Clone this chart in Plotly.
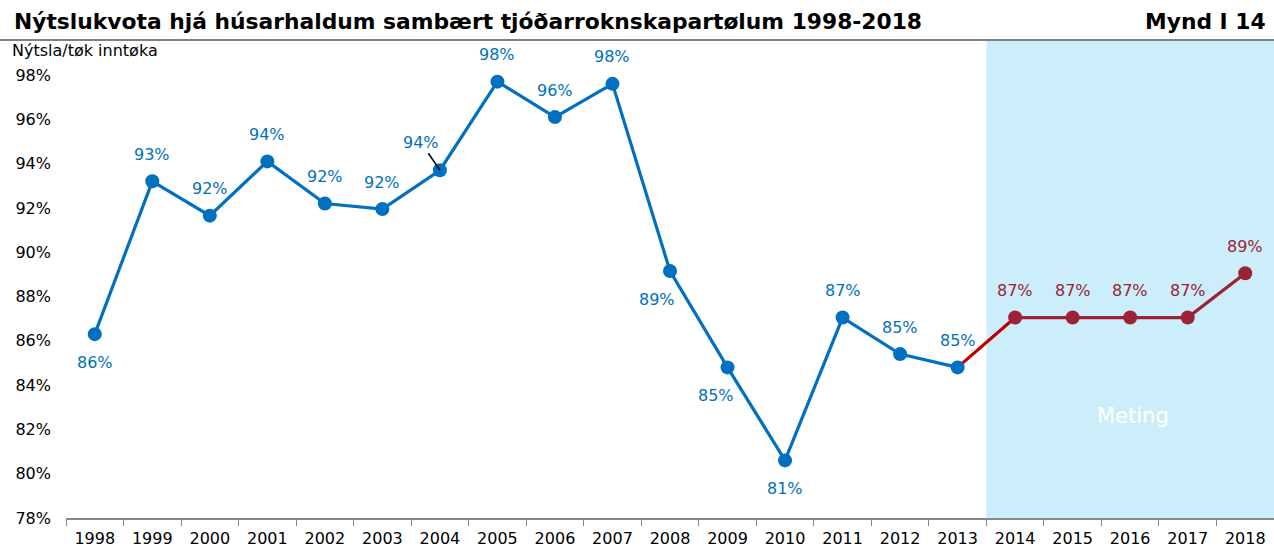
import plotly.graph_objects as go

years = [str(y) for y in range(1998, 2019)]
actual_years = years[:16]
actual_vals = [86.3, 93.2, 91.65, 94.1, 92.2, 91.95, 93.7, 97.7, 96.1, 97.6, 89.15, 84.8, 80.6, 87.05, 85.4, 84.8]
fc_years = years[16:]
fc_vals = [87.05, 87.05, 87.05, 87.05, 89.05]
actual_labels = ["86%", "93%", "92%", "94%", "92%", "92%", "94%", "98%", "96%", "98%", "89%", "85%", "81%", "87%", "85%", "85%"]
actual_label_pos = ["below", "above", "above", "above", "above", "above", "leader", "above", "above", "above", "below", "below", "below", "above", "above", "above"]
fc_labels = ["87%", "87%", "87%", "87%", "89%"]
y_ticks = [78, 80, 82, 84, 86, 88, 90, 92, 94, 96, 98]

BLUE = "#0070C0"
DRED = "#9B2335"
RED = "#C00000"
FONT = "DejaVu Sans"

W, H = 1274, 551
ML, MR, MT, MB = 66, 0, 40, 33
pw, ph = W - ML - MR, H - MT - MB
def px(x):
    return (x - ML) / pw
def py(y):
    return (H - MB - y) / ph

fig = go.Figure()

fig.add_shape(type="rect", xref="x", yref="paper", x0=15.5, x1=20.6, y0=0, y1=1,
              fillcolor="#CCEEFA", line_width=0, layer="below")

fig.add_trace(go.Scatter(x=[actual_years[-1], fc_years[0]], y=[actual_vals[-1], fc_vals[0]],
                         mode="lines", line=dict(color=RED, width=3.2), hoverinfo="skip"))
fig.add_trace(go.Scatter(x=actual_years, y=actual_vals, mode="lines+markers",
                         line=dict(color=BLUE, width=3.2), marker=dict(size=14, color=BLUE)))
fig.add_trace(go.Scatter(x=fc_years, y=fc_vals, mode="lines+markers",
                         line=dict(color=DRED, width=3.2), marker=dict(size=14, color=DRED)))

xshifts = {"2008": -13, "2009": -12}
ann = []
for yr, v, t, p in zip(actual_years, actual_vals, actual_labels, actual_label_pos):
    xi = years.index(yr)
    if p == "leader":
        ann.append(dict(x=xi, y=v, xref="x", yref="y", text=t, showarrow=True, ax=-19, ay=-28, arrowhead=0,
                        arrowwidth=1.5, arrowcolor="black", standoff=0,
                        font=dict(size=16, color=BLUE, family=FONT)))
    else:
        ann.append(dict(x=xi, y=v, xref="x", yref="y", text=t, showarrow=False,
                        yshift=27 if p == "above" else -28,
                        xshift=xshifts.get(yr, 0), font=dict(size=16, color=BLUE, family=FONT)))
for yr, v, t in zip(fc_years, fc_vals, fc_labels):
    ann.append(dict(x=years.index(yr), y=v, xref="x", yref="y", text=t, showarrow=False, yshift=27,
                    font=dict(size=16, color=DRED, family=FONT)))

ann.append(dict(x=18.05, y=82.6, xref="x", yref="y", text="Meting", showarrow=False,
                font=dict(size=21, color="white", family=FONT)))
ann.append(dict(x=px(12), y=py(22), xref="paper", yref="paper",
                text="<b>Nýtslukvota hjá húsarhaldum sambært tjóðarroknskapartølum 1998-2018</b>",
                showarrow=False, xanchor="left", yanchor="middle",
                font=dict(size=21.8, color="black", family=FONT)))
ann.append(dict(text="<b>Mynd I 14</b>", showarrow=False, xanchor="right", yanchor="middle",
                font=dict(size=21.8, color="black", family=FONT), xref="paper", yref="paper",
                x=px(1268), y=py(22)))
ann.append(dict(text="Nýtsla/tøk inntøka", showarrow=False, xanchor="left", yanchor="middle",
                font=dict(size=16, color="black", family=FONT), xref="paper", yref="paper",
                x=px(10), y=py(50)))

fig.add_shape(type="line", xref="paper", yref="paper", x0=px(0), x1=px(1274), y0=py(40), y1=py(40),
              line=dict(color="#808080", width=2))

fig.update_layout(
    width=W, height=H, margin=dict(l=ML, r=MR, t=MT, b=MB),
    plot_bgcolor="white", paper_bgcolor="white", showlegend=False,
    font=dict(family=FONT, color="black"),
    annotations=ann,
    xaxis=dict(type="category", categoryorder="array", categoryarray=years, range=[-0.5, 20.5],
               showgrid=False, showline=True, linecolor="#888888", linewidth=1.5,
               ticks="outside", tickson="boundaries", ticklen=6, tickcolor="#888888",
               ticklabelstandoff=5,
               tickfont=dict(size=16, color="black", family=FONT)),
    yaxis=dict(range=[78, 99.58], tickvals=y_ticks, ticktext=[f"{v}%" for v in y_ticks],
               showgrid=False, zeroline=False, showline=False, ticks="",
               ticklabelstandoff=14,
               tickfont=dict(size=16, color="black", family=FONT)),
)

fig.write_html("out.html", config={"displayModeBar": False},
               post_script="document.body.style.margin='0px';")
